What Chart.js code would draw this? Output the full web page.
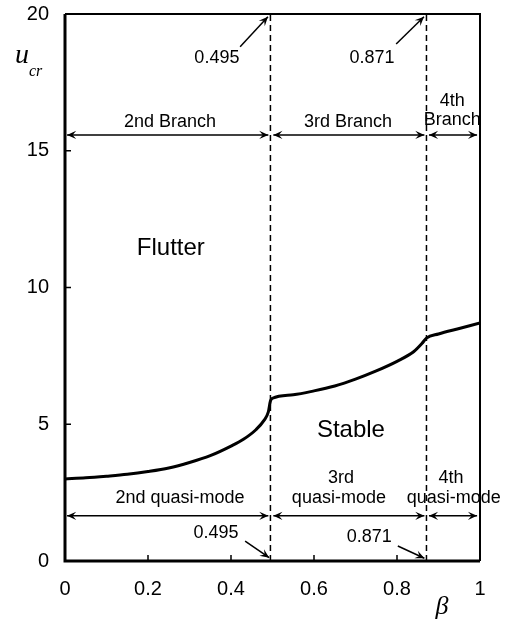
<!DOCTYPE html>
<html>
<head>
<meta charset="utf-8">
<script src="https://cdn.jsdelivr.net/npm/chart.js@4.4.1/dist/chart.umd.min.js"></script>
<style>
  html, body { margin: 0; padding: 0; background: #fff; }
  #wrap { width: 508px; height: 620px; }
</style>
</head>
<body>
<div id="wrap"><canvas id="myChart" width="508" height="620"></canvas></div>
<script>
// critical velocity vs beta
const beta = [0, 0.05, 0.1, 0.15, 0.2, 0.25, 0.3, 0.35, 0.4, 0.43, 0.46, 0.48, 0.49, 0.495,
              0.5, 0.55, 0.6, 0.65, 0.7, 0.75, 0.8, 0.84, 0.86, 0.871, 0.9, 0.95, 1.0];
const ucr  = [3.0, 3.04, 3.1, 3.17, 3.27, 3.4, 3.6, 3.85, 4.2, 4.45, 4.8, 5.15, 5.45, 5.85,
              5.95, 6.08, 6.22, 6.4, 6.65, 6.95, 7.3, 7.65, 7.95, 8.15, 8.3, 8.5, 8.7];
const boundaries = [0.495, 0.871];
const xTicks = [0, 0.2, 0.4, 0.6, 0.8, 1];
const yTicks = [0, 5, 10, 15, 20];

const FONT = "'Liberation Sans', Arial, sans-serif";

var curve = [];
for (var i = 0; i < beta.length; i++) {
    curve.push({x: beta[i], y: ucr[i]});
}

var datasets = [{
    data: curve,
    borderColor: '#000',
    borderWidth: 3,
    pointRadius: 0,
    cubicInterpolationMode: 'monotone',
    fill: false
}];
for (var b of boundaries) {
    datasets.push({
        data: [{x: b, y: yTicks[0]}, {x: b, y: yTicks[yTicks.length - 1]}],
        borderColor: '#000',
        borderWidth: 1.5,
        borderDash: [6, 4],
        pointRadius: 0,
        fill: false
    });
}

function arrowHead(ctx, x0, y0, x1, y1) {
    var a = Math.atan2(y1 - y0, x1 - x0);
    var len = 10, w = 0.42;
    ctx.beginPath();
    ctx.moveTo(x1, y1);
    ctx.lineTo(x1 - len * Math.cos(a - w), y1 - len * Math.sin(a - w));
    ctx.lineTo(x1 - len * 0.55 * Math.cos(a), y1 - len * 0.55 * Math.sin(a));
    ctx.lineTo(x1 - len * Math.cos(a + w), y1 - len * Math.sin(a + w));
    ctx.closePath();
    ctx.fill();
}

var annotations = {
    id: 'annotations',
    afterDraw: function(chart) {
        var ctx = chart.ctx, xs = chart.scales.x, ys = chart.scales.y, ca = chart.chartArea;
        var X = v => xs.getPixelForValue(v), Y = v => ys.getPixelForValue(v);
        ctx.save();
        ctx.fillStyle = '#000';
        ctx.strokeStyle = '#000';

        // frame
        ctx.lineWidth = 2;
        ctx.beginPath();
        ctx.moveTo(ca.left, ca.top); ctx.lineTo(ca.right, ca.top); ctx.lineTo(ca.right, ca.bottom);
        ctx.stroke();
        ctx.lineWidth = 3;
        ctx.beginPath();
        ctx.moveTo(ca.left, ca.top); ctx.lineTo(ca.left, ca.bottom); ctx.lineTo(ca.right, ca.bottom);
        ctx.stroke();

        // inward ticks
        ctx.lineWidth = 1.5;
        ctx.beginPath();
        for (var t of xTicks.slice(1, -1)) { ctx.moveTo(X(t), ca.bottom); ctx.lineTo(X(t), ca.bottom - 6); }
        for (var t of yTicks.slice(1, -1)) { ctx.moveTo(ca.left, Y(t)); ctx.lineTo(ca.left + 6, Y(t)); }
        ctx.stroke();

        function text(s, x, y, size) {
            ctx.font = (size || 18) + 'px ' + FONT;
            ctx.textAlign = 'center';
            ctx.textBaseline = 'middle';
            ctx.fillText(s, X(x), Y(y));
        }
        function arrow(x0, y0, x1, y1, both) {
            var px0 = X(x0), py0 = Y(y0), px1 = X(x1), py1 = Y(y1);
            ctx.lineWidth = 1.5;
            ctx.beginPath(); ctx.moveTo(px0, py0); ctx.lineTo(px1, py1); ctx.stroke();
            arrowHead(ctx, px0, py0, px1, py1);
            if (both) arrowHead(ctx, px1, py1, px0, py0);
        }

        // top labels of the boundaries
        text('0.495', 0.366, 18.39);
        arrow(0.422, 18.8, 0.489, 19.9);
        text('0.871', 0.740, 18.39);
        arrow(0.798, 18.9, 0.865, 19.9);

        // branch row
        text('2nd Branch', 0.253, 16.05);
        arrow(0.005, 15.58, 0.49, 15.58, true);
        text('3rd Branch', 0.682, 16.05);
        arrow(0.502, 15.58, 0.866, 15.58, true);
        text('4th', 0.933, 16.8);
        text('Branch', 0.933, 16.12);
        arrow(0.877, 15.58, 0.993, 15.58, true);

        text('Flutter', 0.255, 11.44, 24);
        text('Stable', 0.689, 4.79, 24);

        // quasi-mode row
        text('2nd quasi-mode', 0.277, 2.3);
        arrow(0.005, 1.65, 0.49, 1.65, true);
        text('3rd', 0.665, 3.03);
        text('quasi-mode', 0.66, 2.3);
        arrow(0.502, 1.65, 0.866, 1.65, true);
        text('4th', 0.93, 3.03);
        text('quasi-mode', 0.937, 2.3);
        arrow(0.877, 1.65, 0.993, 1.65, true);

        text('0.495', 0.364, 1.02);
        arrow(0.434, 0.73, 0.492, 0.12);
        text('0.871', 0.733, 0.88);
        arrow(0.802, 0.55, 0.866, 0.1);

        // axis titles
        ctx.textAlign = 'left';
        ctx.textBaseline = 'alphabetic';
        ctx.font = 'italic 28px "Liberation Serif", serif';
        ctx.fillText('u', ca.left - 50, Y(18.2));
        ctx.font = 'italic 16px "Liberation Serif", serif';
        ctx.fillText('cr', ca.left - 36, Y(17.75));
        ctx.font = 'italic 26px "Liberation Serif", serif';
        ctx.fillText('\u03b2', X(0.893), ca.bottom + 53);
        ctx.restore();
    }
};

var ctx = document.getElementById('myChart').getContext('2d');
var chart = new Chart(ctx, {
    type: 'line',
    data: { datasets: datasets },
    options: {
        responsive: false,
        animation: false,
        layout: { padding: { left: 0, right: 28, top: 14, bottom: 0 } },
        plugins: { legend: { display: false }, tooltip: { enabled: false } },
        scales: {
            x: {
                type: 'linear', min: 0, max: 1,
                afterBuildTicks: s => { s.ticks = xTicks.map(v => ({value: v})); },
                afterFit: s => { s.height = 59; s.paddingLeft = 0; s.paddingRight = 0; },
                border: { display: false },
                grid: { display: false },
                ticks: {
                    color: '#000', padding: 8, maxRotation: 0,
                    font: { family: FONT, size: 20 },
                    callback: v => String(+v.toFixed(1))
                }
            },
            y: {
                min: 0, max: 20,
                afterBuildTicks: s => { s.ticks = yTicks.map(v => ({value: v})); },
                afterFit: s => { s.width = 65; s.paddingTop = 0; s.paddingBottom = 0; },
                border: { display: false },
                grid: { display: false },
                ticks: { color: '#000', padding: 8, font: { family: FONT, size: 20 } }
            }
        }
    },
    plugins: [annotations]
});
</script>
</body>
</html>
